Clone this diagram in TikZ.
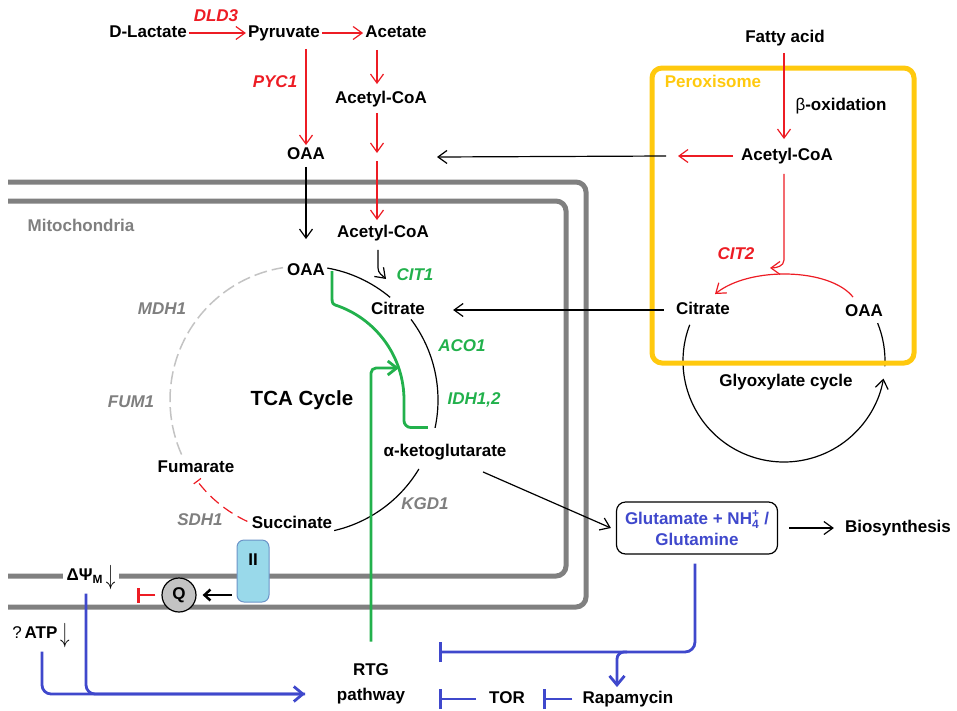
\documentclass[tikz,border=0pt]{standalone}
\usepackage{fontspec}
\setmainfont{Liberation Sans}
\usepackage{tikz}
\usetikzlibrary{arrows.meta, positioning, calc}

\definecolor{pred}{HTML}{ED1C24}
\definecolor{pgreen}{HTML}{22B14C}
\definecolor{pblue}{HTML}{3F48CC}
\definecolor{pyellow}{HTML}{FFC90E}
\definecolor{memgray}{HTML}{808080}
\definecolor{lblgray}{HTML}{7F7F7F}
\definecolor{dashgray}{HTML}{C3C3C3}
\definecolor{ctwofill}{HTML}{99D9EA}
\definecolor{ctwoline}{HTML}{6B93C7}
\definecolor{qgray}{HTML}{C3C3C3}

\newcommand{\lowarrow}{\,\raisebox{-4pt}{\scalebox{1.1}[1.6]{$\downarrow$}}}

\begin{document}
\begin{tikzpicture}[x=1pt, y=1pt,
  font=\fontsize{17}{19}\selectfont\bfseries,
  met/.style={inner sep=2pt, text height=12pt, text depth=3.5pt},
  enz/.style={met, font=\fontsize{17}{19}\selectfont\bfseries\itshape},
  rarr/.style={draw=pred, line width=1.2pt, -{Straight Barb[length=9pt,width=13pt]}},
  barr/.style={draw=black, line width=1.2pt, -{Straight Barb[length=9pt,width=13pt]}},
  cycline/.style={draw=black, line width=1.2pt},
  membrane/.style={draw=memgray, line width=5pt, rounded corners=10pt},
  grnline/.style={draw=pgreen, line width=2.8pt},
  bluline/.style={draw=pblue, line width=2.8pt},
  bluarr/.style={bluline, -{Straight Barb[length=9pt,width=15pt]}},
  bluinh/.style={bluline, -{Bar[width=20pt]}}]

  \useasboundingbox (0,0) rectangle (957,-710);

  % --- Mitochondrial membranes (outer, inner) ---
  \draw[membrane] (8,-182) -- (586,-182) -- (586,-607) -- (8,-607);
  \draw[membrane] (8,-201) -- (566,-201) -- (566,-576) -- (8,-576);
  \node[met, text=lblgray] (mito) at (81,-227) {Mitochondria};

  % --- Glyoxylate cycle (under the peroxisome border) ---
  \coordinate (gc) at (784,-361);
  \draw[cycline, -{Straight Barb[length=9pt,width=13pt]}] ($(gc)+(159:101)$) arc[start angle=159, end angle=350, radius=101];
  \draw[cycline] ($(gc)+(22:101)$) arc[start angle=22, end angle=-3, radius=101];

  % --- Peroxisome ---
  \draw[pyellow, line width=5pt, rounded corners=10pt] (652,-68) rectangle (914,-363);
  \node[met, text=pyellow] (perox) at (713,-83) {Peroxisome};

  % --- Cytosol metabolites ---
  \node[met] (dlac) at (148,-33) {D-Lactate};
  \node[met] (pyr) at (284,-33) {Pyruvate};
  \node[met] (acet) at (396,-33) {Acetate};
  \node[met] (acoa1) at (381,-99) {Acetyl-CoA};
  \node[met] (oaa1) at (306,-155) {OAA};
  \node[enz, text=pred] (dld3) at (216,-17) {DLD3};
  \node[enz, text=pred] (pyc1) at (275,-83) {PYC1};

  % --- TCA cycle metabolites ---
  \node[met] (acoa2) at (383,-233) {Acetyl-CoA};
  \node[met] (oaa2) at (306,-271) {OAA};
  \node[met] (cit) at (398,-310) {Citrate};
  \node[met] (akg) at (445,-452) {α-ketoglutarate};
  \node[met] (suc) at (292,-524) {Succinate};
  \node[met] (fum) at (196,-468) {Fumarate};
  \node[font=\fontsize{20.5}{24}\selectfont\bfseries] (tca) at (302,-400) {TCA Cycle};

  \node[enz, text=pgreen] (cit1) at (415,-276) {CIT1};
  \node[enz, text=pgreen] (aco1) at (462,-347) {ACO1};
  \node[enz, text=pgreen] (idh) at (474,-400) {IDH1,2};
  \node[enz, text=lblgray] (kgd1) at (425,-505) {KGD1};
  \node[enz, text=lblgray] (sdh1) at (200,-521) {SDH1};
  \node[enz, text=lblgray] (fum1) at (131,-403) {FUM1};
  \node[enz, text=lblgray] (mdh1) at (162,-310) {MDH1};

  % --- Peroxisome metabolites ---
  \node[met] (fatty) at (785,-38) {Fatty acid};
  \node[met] (betaox) at (841,-106) {{\mdseries β}-oxidation};
  \node[met] (acoa3) at (787,-156) {Acetyl-CoA};
  \node[enz, text=pred] (cit2) at (736,-255) {CIT2};
  \node[met] (cit3) at (703,-310) {Citrate};
  \node[met] (oaa3) at (864,-312) {OAA};
  \node[met] (glyox) at (786,-382) {Glyoxylate cycle};

  % --- Membrane: complex II, ubiquinone, potential ---
  \node[draw=ctwoline, fill=ctwofill, line width=1pt, rounded corners=7pt,
        minimum width=32pt, minimum height=62pt, inner sep=0pt] (c2) at (253,-571) {\raisebox{22pt}{II}};
  \node[circle, draw, fill=qgray, line width=1.2pt, minimum size=34pt, inner sep=0pt] (q) at (179,-595) {Q};
  \node[fill=white, inner xsep=4pt, inner ysep=1pt] (dpsi) at (91,-578) {ΔΨ\textsubscript{M}\lowarrow};
  \node[inner sep=1pt] (atp) at (41,-636) {{\mdseries ?}\,ATP\lowarrow};

  % --- Signalling ---
  \node[draw, line width=1.2pt, rounded corners=9pt, minimum width=161pt, minimum height=52pt,
        align=center, text=pblue, font=\fontsize{17}{21}\selectfont\bfseries] (glu) at (697,-528)
        {Glutamate + NH$^{\hbox{\fontsize{12}{12}\selectfont\bfseries +}}_{\hbox{\fontsize{12}{12}\selectfont\bfseries 4}}$ /\\\bfseries Glutamine};
  \node[met] (bio) at (898,-528) {Biosynthesis};
  \node[align=center, inner sep=2pt, font=\fontsize{17}{25}\selectfont\bfseries] (rtg) at (371,-684) {RTG\\\bfseries pathway};
  \node[met] (tor) at (507,-699) {TOR};
  \node[met] (rapa) at (628,-699) {Rapamycin};

  \coordinate (m1) at (377,-157);
  \coordinate (pout) at (672,-156);
  \coordinate (cytin) at (437,-157);
  \coordinate (tcac) at (304,-400);
  \coordinate (rtgin) at (399,-368);
  \coordinate (rtgl) at (305,-694);
  \coordinate (rtgbar) at (439,-652);

  % --- Cytosol reactions ---
  \draw[rarr] (dlac) -- (pyr);
  \draw[rarr] (pyr) -- (acet);
  \draw[rarr] ([xshift=-19pt,yshift=-7pt]acet.south) -- ([xshift=-4pt,yshift=5pt]acoa1.north);
  \draw[rarr] ([xshift=22pt,yshift=-6pt]pyr.south) -- (oaa1.north);
  \draw[rarr] ([xshift=-4pt,yshift=-4pt]acoa1.south) -- ([yshift=4pt]m1);
  \draw[rarr] ([yshift=-4pt]m1) -- ([xshift=-6pt,yshift=3pt]acoa2.north);
  \draw[barr] ([yshift=-2pt]oaa1.south) -- ([yshift=22pt]oaa2.north);
  \draw[barr] ([xshift=-5pt,yshift=-7pt]acoa2.south) -- ++(0,-18) to[out=-90,in=135] ++(8,-11);

  % --- TCA cycle arcs ---
  \draw[cycline] ($(tcac)+(80:134)$) arc[start angle=80, end angle=50, radius=134];
  \draw[cycline] ($(tcac)+(37:134)$) arc[start angle=37, end angle=-12, radius=134];
  \draw[cycline] ($(tcac)+(-31:134)$) arc[start angle=-31, end angle=-77, radius=134];
  \draw[pred, line width=1.2pt, dash pattern=on 11pt off 6pt, -{Bar[width=9pt]}]
    ($(tcac)+(245:134)$) arc[start angle=245, end angle=217, radius=134];
  \draw[dashgray, line width=1.5pt, dash pattern=on 13pt off 5pt]
    ($(tcac)+(204:134)$) arc[start angle=204, end angle=99, radius=134];

  % --- RTG retrograde branch (green) ---
  \draw[grnline] ([xshift=5pt]oaa2.east) -- ++(0,-25) to[out=-90,in=162] ($(tcac)+(72:100)$)
    arc[start angle=72, end angle=2, radius=100] -- ++(0,-24) to[out=-90,in=180] ++(7,-7) -- ++(17,0);
  \draw[grnline, rounded corners=5pt, -{Straight Barb[length=9pt,width=14pt]}] ([yshift=20pt]rtg.north) |- (rtgin);

  % --- Peroxisome reactions ---
  \draw[rarr] ([xshift=-1pt,yshift=-5pt]fatty.south) -- ([xshift=-3pt,yshift=7pt]acoa3.north);
  \draw[rarr] ([xshift=-6pt]acoa3.west) -- ([xshift=6pt]pout);
  \draw[barr] ([xshift=-6pt]pout) -- (cytin);
  \draw[rarr] ([xshift=-3pt,yshift=-8pt]acoa3.south) -- ++(0,-86) to[out=-90,in=0] ++(-14,-8);
  \draw[rarr] ([xshift=-11pt,yshift=5pt]oaa3.north) .. controls +(-23,29) and +(35,28) .. ([xshift=12pt,yshift=6pt]cit3.north);
  \draw[barr] ([xshift=-10pt]cit3.west) -- ([xshift=26pt]cit.east);

  % --- Glutamate, biosynthesis ---
  \draw[barr] ([xshift=38pt,yshift=-10pt]akg.south) -- ([xshift=-5pt]glu.west);
  \draw[barr] ([xshift=11pt]glu.east) -- ([xshift=-9pt]bio.west);

  % --- Complex II and Q ---
  \draw[line width=2.5pt, -{Straight Barb[length=6pt,width=11pt]}] ([xshift=-5pt]c2.west |- q) -- ([xshift=6pt]q.east);
  \draw[pred, line width=2.5pt, -{Bar[width=15pt]}] ([xshift=-6pt]q.west) -- ++(-18,0);

  % --- Blue signalling lines ---
  \draw[bluline, rounded corners=9pt] ([xshift=1pt,yshift=-2pt]atp.south) |- (rtgl);
  \draw[bluarr, rounded corners=9pt] ([xshift=-5pt,yshift=-2pt]dpsi.south) |- (rtgl);
  \draw[bluinh, rounded corners=10pt] ([xshift=-2pt,yshift=-9pt]glu.south) |- (rtgbar);
  \draw[bluarr, rounded corners=7pt] ([xshift=-1pt]rapa.north |- rtgbar) -| ([xshift=-11pt,yshift=2pt]rapa.north);
  \draw[bluinh] ([xshift=-11pt]tor.west) -- (rtgbar |- tor);
  \draw[bluinh] ([xshift=-8pt]rapa.west) -- ([xshift=16pt]tor.east);

\end{tikzpicture}
\end{document}
